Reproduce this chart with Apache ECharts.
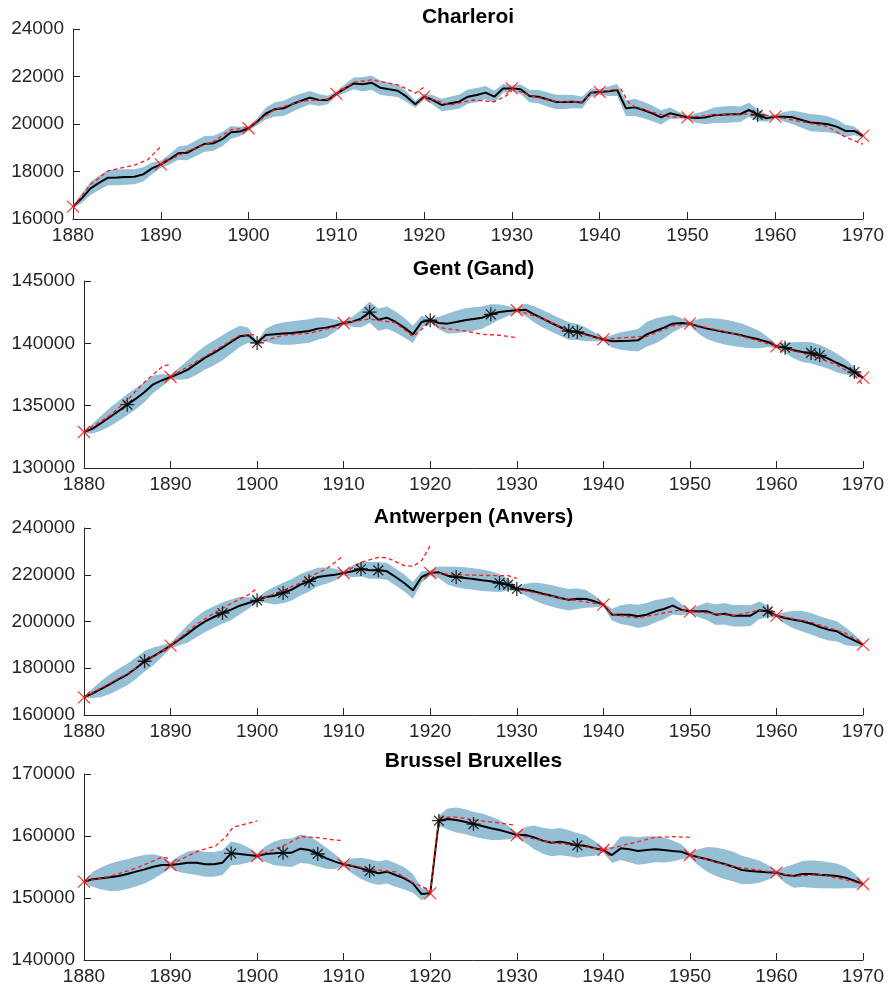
<!DOCTYPE html>
<html>
<head>
<meta charset="utf-8">
<script src="https://cdn.jsdelivr.net/npm/echarts@6/dist/echarts.min.js"></script>
<style>
html,body{margin:0;padding:0;background:#fff;}
#chart{width:890px;height:992px;}
</style>
</head>
<body>
<div id="chart"></div>
<script>
// ---------- DATA ----------
const firstYear = 1880, lastYear = 1970;
const xTicks = [1880,1890,1900,1910,1920,1930,1940,1950,1960,1970];
const titles = ["Charleroi", "Gent (Gand)", "Antwerpen (Anvers)", "Brussel Bruxelles"];

// yearly estimates 1880..1970
const charleroi = [
16520,16870,17290,17530,17740,17750,17770,17780,17880,18130,
18300,18510,18770,18790,18980,19160,19190,19360,19650,19680,
19820,20100,20450,20620,20660,20840,20980,21110,21010,21010,
21270,21500,21710,21670,21740,21530,21460,21400,21150,20830,
21150,21010,20800,20870,20940,21150,21220,21320,21150,21500,
21500,21460,21180,21150,21040,20930,20930,20940,20900,21320,
21350,21380,21430,20660,20700,20590,20450,20280,20450,20370,
20280,20250,20270,20370,20390,20410,20410,20590,20380,20240,
20310,20310,20280,20170,20060,20030,19990,19890,19710,19710,
19500];
const charleroiHalfBand = [
60,200,280,300,320,330,330,320,300,250,
150,220,280,320,330,330,320,300,270,200,
100,150,250,300,320,320,300,280,250,180,
100,180,250,300,300,300,280,260,220,150,
120,200,260,280,300,300,300,280,250,180,
120,200,260,280,300,300,300,280,250,180,
120,200,250,330,360,350,330,300,240,150,
80,200,280,330,350,350,330,300,240,150,
80,200,290,330,360,360,340,300,260,180,
80];
const charleroiProj = [
 [[1880,16520],[1882,17450],[1884,18030],[1887,18270],[1888.5,18490],[1890,19050]],
 [[1890,18300],[1893,18850],[1896,19260],[1898,19760],[1900,19850]],
 [[1900,19820],[1903,20620],[1906,20960],[1909,21050],[1910,21220]],
 [[1910,21270],[1912,21760],[1914,21860],[1916,21720],[1917,21650],[1919,21300],[1920,21550]],
 [[1920,21150],[1923,20800],[1925.5,21010],[1928,20940],[1929.5,21220],[1930,21400]],
 [[1930,21500],[1932,21200],[1935,20950],[1938,20920],[1939,21300],[1940,21350]],
 [[1940,21350],[1942.4,21480],[1943.3,20900],[1944,20730],[1946,20500],[1948,20300],[1950,20280]],
 [[1950,20280],[1953,20380],[1956,20420],[1958,20420],[1960,20310]],
 [[1960,20310],[1963,20100],[1966,19880],[1968,19450],[1970,19150]]
];
const charleroiCross = [1880,1890,1900,1910,1920,1930,1940,1950,1960,1970];
const charleroiStar = [1958];

const gent = [
132890,133160,133610,134090,134570,135080,135560,136100,136710,137030,
137300,137570,137890,138370,138850,139230,139650,140110,140560,140640,
140030,140670,140720,140780,140830,140910,140990,141180,141260,141420,
141630,141740,141980,142510,141900,142060,141710,141260,140720,141710,
141850,141630,141580,141710,141850,141950,142060,142330,142510,142590,
142650,142700,142330,141980,141630,141310,140990,140910,140720,140510,
140320,140160,140190,140210,140240,140720,140990,141260,141580,141630,
141580,141360,141180,141040,140910,140780,140640,140460,140300,140110,
139760,139650,139440,139310,139230,139040,138770,138420,138100,137700,
137250];
const gentHalfBand = [
100,400,600,750,800,850,850,800,700,500,
200,500,750,900,950,1000,1000,950,850,600,
150,500,800,900,950,950,950,900,800,500,
150,400,700,850,900,900,850,800,700,500,
150,500,800,900,950,950,900,800,600,400,
150,500,650,700,700,700,700,650,550,350,
150,500,700,800,900,1000,1000,900,700,400,
150,600,850,950,1000,1000,950,850,700,400,
150,400,650,800,850,850,800,750,600,400,
100];
const gentProj = [
 [[1880,132890],[1883,134200],[1885,135450],[1887,136900],[1889,138100],[1890,138350]],
 [[1890,137300],[1894,138950],[1898,140650],[1900,140700]],
 [[1900,140030],[1903,140650],[1906,140800],[1909,141300],[1910,141600]],
 [[1910,141630],[1913,141950],[1916,141650],[1918,140550],[1920,141700]],
 [[1920,141850],[1921,141260],[1924,141000],[1926,140720],[1928,140650],[1930,140460]],
 [[1930,142650],[1933,141980],[1936,141000],[1940,140320]],
 [[1940,140320],[1943,140480],[1945,140550],[1948,141400],[1950,141580]],
 [[1950,141580],[1955,140780],[1960,139760]],
 [[1960,139760],[1964,139050],[1967,138250],[1969,137430],[1970,136650]]
];
const gentCross = [1880,1890,1910,1930,1940,1950,1960,1970];
const gentStar = [1885,1900,1913,1920,1927,1936,1937,1961,1964,1965,1969];

const antwerpen = [
167560,169300,171200,173200,175300,177300,180000,183000,185100,187300,
189660,192230,194800,197650,200070,201920,203640,205060,206770,207910,
209050,210480,211050,212190,213620,215760,217180,219040,219610,220030,
220750,221460,222460,221890,221890,221460,219040,216470,213330,219040,
220750,221030,219610,219040,218610,218180,217610,217180,216470,215760,
213900,213620,212900,211900,211050,210050,209340,209770,209630,208630,
207200,202920,202920,202920,202210,202920,204350,205350,206770,205060,
204350,204350,204350,202920,203350,202500,202500,202500,204780,204350,
202500,201500,200780,200070,199070,197650,196510,195790,193650,191940,
190090];
const antwerpenHalfBand = [
300,2000,3500,4200,4500,4600,4600,4400,3800,2500,
1200,2500,3800,4400,4600,4600,4600,4400,3800,2500,
1000,2500,3800,4400,4600,4600,4400,4000,3500,2500,
1000,2500,3200,3600,3600,3600,3600,3600,3600,2500,
1200,2500,3800,4400,4600,4600,4600,4300,3800,2500,
1000,2500,3800,4400,4600,4600,4600,4400,3800,2500,
800,2500,4000,4600,5000,5000,4800,4400,3800,2500,
800,2500,3800,4400,4600,4600,4600,4400,3800,2500,
800,2500,3800,4400,4600,4600,4600,4300,3800,2500,
800];
const antwerpenProj = [
 [[1880,167560],[1885,177700],[1890,189660]],
 [[1890,189660],[1893,198800],[1895,203500],[1897,207700],[1899,211500],[1900,214200]],
 [[1900,209050],[1903,213300],[1905,216500],[1906,219040],[1908,222460],[1910,228160]],
 [[1910,220750],[1912,225310],[1914,227450],[1915,227300],[1917,223880],[1918,223600],[1919,226000],[1920,232400]],
 [[1920,220750],[1923,220030],[1926,219700],[1929,219610],[1930,218400]],
 [[1930,213900],[1935,210050],[1940,207200]],
 [[1940,207200],[1941,203000],[1944,201500],[1947,203640],[1949,205000],[1950,204350]],
 [[1950,204350],[1955,202500],[1958,204780],[1960,202500]],
 [[1960,202500],[1964,199700],[1968,195000],[1970,190500]]
];
const antwerpenCross = [1880,1890,1910,1920,1940,1950,1960,1970];
const antwerpenStar = [1887,1896,1900,1903,1906,1912,1914,1923,1928,1929,1930,1959];

const brussel = [
152630,153010,153170,153330,153550,153870,154250,154620,155050,155320,
155320,155480,155700,155700,155430,155430,155700,157200,157100,156930,
156770,157100,157200,157310,157310,157960,157740,157100,156400,155860,
155430,155160,154780,154350,153980,154250,153710,153170,152360,150640,
150750,162470,162740,162580,162310,161930,161610,161240,160970,160590,
160160,160160,159780,159250,158920,159090,158820,158490,158390,158010,
157740,156930,158010,157850,157580,157740,157850,157740,157580,157470,
156930,156560,156240,155860,155480,155050,154520,154350,154250,154140,
154090,153710,153550,153870,153870,153760,153660,153550,153280,152790,
152260];
const brusselHalfBand = [
200,1200,1800,2200,2400,2400,2400,2300,2000,1400,
500,1300,1800,2000,2000,2000,2000,1900,1700,1200,
400,1300,1900,2200,2300,2300,2200,2000,1700,1200,
400,1200,1700,1900,1900,1900,1900,1800,1500,1000,
400,800,1700,2000,2000,2000,2000,1900,1600,1100,
400,1300,1900,2100,2200,2200,2100,2000,1700,1200,
400,1300,1900,2100,2200,2200,2100,2000,1700,1200,
400,1300,2000,2300,2400,2400,2300,2100,1800,1200,
400,1300,1900,2100,2200,2200,2100,2000,1700,1200,
400];
const brusselProj = [
 [[1880,152630],[1883,153500],[1886,154800],[1889,156560],[1890,156400]],
 [[1890,155320],[1891,156130],[1893.3,157630],[1895.2,158390],[1896.4,159890],[1897.2,161400],[1900,162420]],
 [[1900,156770],[1903,158390],[1905,159890],[1907,159730],[1909,159350],[1910,159250]],
 [[1910,155430],[1914,154520],[1916,154200],[1918,152500],[1919.5,151560],[1920,151020]],
 [[1920,150750],[1921,163000],[1923,163050],[1925,162580],[1928,162100],[1929.6,161770]],
 [[1930,160160],[1934,158920],[1937,158490],[1940,157740]],
 [[1940,157740],[1942,158390],[1944,159090],[1946,159780],[1948,159900],[1950,159780]],
 [[1950,156930],[1955,155050],[1960,154090]],
 [[1960,154090],[1962,153500],[1965,153800],[1970,152300]]
];
const brusselCross = [1880,1890,1900,1910,1920,1930,1940,1950,1960,1970];
const brusselStar = [1897,1903,1907,1913,1921,1925,1937];

const yRanges = [[16000,24000,2000],[130000,145000,5000],[160000,240000,20000],[140000,170000,10000]];

// ---------- CHART ----------
const years = [];
for (let y = firstYear; y <= lastYear; y++) years.push(y);

const panels = [
  {vals: charleroi, hw: charleroiHalfBand, proj: charleroiProj, cross: charleroiCross, star: charleroiStar},
  {vals: gent, hw: gentHalfBand, proj: gentProj, cross: gentCross, star: gentStar},
  {vals: antwerpen, hw: antwerpenHalfBand, proj: antwerpenProj, cross: antwerpenCross, star: antwerpenStar},
  {vals: brussel, hw: brusselHalfBand, proj: brusselProj, cross: brusselCross, star: brusselStar}
];
const layout = [
  {left: 73, top: 29, height: 190, titleTop: 7},
  {left: 84, top: 281, height: 187, titleTop: 259},
  {left: 84, top: 528, height: 187, titleTop: 507},
  {left: 84, top: 774, height: 186, titleTop: 751}
];
const RIGHT = 27;
const FONT = "'Liberation Sans', Arial, Helvetica, sans-serif";
const AXIS_COLOR = '#262626';
const BAND_COLOR = '#94bfd4';
const CROSS = 'path://M0,0 L10,10 M0,10 L10,0';
const STAR = 'path://M5,0 L5,10 M0,5 L10,5 M1.5,1.5 L8.5,8.5 M1.5,8.5 L8.5,1.5';

function bandRenderer(p) {
  return function (params, api) {
    if (params.dataIndex !== 0) return null;
    const upper = years.map((y, k) => api.coord([y, p.vals[k] + p.hw[k]]));
    const lower = years.map((y, k) => api.coord([y, p.vals[k] - p.hw[k]])).reverse();
    return {
      type: 'polygon',
      shape: {points: upper.concat(lower)},
      style: {fill: BAND_COLOR, stroke: null}
    };
  };
}

const grids = [], xAxes = [], yAxes = [], series = [], titleOpts = [];
panels.forEach((p, i) => {
  const L = layout[i];
  grids.push({left: L.left, right: RIGHT, top: L.top, height: L.height, containLabel: false});
  titleOpts.push({
    text: titles[i], left: (L.left + (890 - RIGHT)) / 2, top: L.titleTop, textAlign: 'center', padding: 0,
    textStyle: {fontFamily: FONT, fontSize: 21, fontWeight: 'bold', color: '#000'}
  });
  xAxes.push({
    type: 'value', gridIndex: i, min: firstYear, max: lastYear, interval: 10,
    axisLine: {show: true, onZero: false, lineStyle: {color: AXIS_COLOR, width: 1}},
    axisTick: {show: true, inside: true, length: 7, lineStyle: {color: AXIS_COLOR}},
    splitLine: {show: false},
    axisLabel: {fontFamily: FONT, fontSize: 19, color: AXIS_COLOR, margin: 7, formatter: v => String(v)}
  });
  const yr = yRanges[i];
  yAxes.push({
    type: 'value', gridIndex: i, min: yr[0], max: yr[1], interval: yr[2],
    axisLine: {show: true, onZero: false, lineStyle: {color: AXIS_COLOR, width: 1}},
    axisTick: {show: true, inside: true, length: 7, lineStyle: {color: AXIS_COLOR}},
    splitLine: {show: false},
    axisLabel: {fontFamily: FONT, fontSize: 19, color: AXIS_COLOR, margin: 9, formatter: v => String(v)}
  });
  // uncertainty band (polygon through upper and lower edges)
  series.push({
    type: 'custom', xAxisIndex: i, yAxisIndex: i, silent: true, z: 1, clip: true,
    renderItem: bandRenderer(p),
    data: years.map((y, k) => [y, p.vals[k] + p.hw[k], p.vals[k] - p.hw[k]]),
    encode: {x: 0, y: [1, 2]}
  });
  // black estimate line
  series.push({
    type: 'line', xAxisIndex: i, yAxisIndex: i, symbol: 'none', silent: true, z: 3,
    lineStyle: {color: '#000', width: 2}, data: years.map((y, k) => [y, p.vals[k]])
  });
  // red dashed projections
  p.proj.forEach(seg => {
    series.push({
      type: 'line', xAxisIndex: i, yAxisIndex: i, symbol: 'none', silent: true, z: 4,
      lineStyle: {color: '#ff1a1a', width: 1.3, type: [4, 3]}, data: seg
    });
  });
  // red crosses at census years
  series.push({
    type: 'scatter', xAxisIndex: i, yAxisIndex: i, symbol: CROSS, symbolSize: 12, silent: true, z: 6,
    itemStyle: {color: 'rgba(0,0,0,0)', borderColor: '#ff0000', borderWidth: 1.2},
    data: p.cross.map(y => [y, p.vals[y - firstYear]])
  });
  // black asterisks
  series.push({
    type: 'scatter', xAxisIndex: i, yAxisIndex: i, symbol: STAR, symbolSize: 14, silent: true, z: 5,
    itemStyle: {color: 'rgba(0,0,0,0)', borderColor: '#000', borderWidth: 1.3},
    data: p.star.map(y => [y, p.vals[y - firstYear]])
  });
});

const chart = echarts.init(document.getElementById('chart'), null, {renderer: 'canvas'});
chart.setOption({
  animation: false,
  backgroundColor: '#fff',
  title: titleOpts,
  grid: grids,
  xAxis: xAxes,
  yAxis: yAxes,
  series: series
});
</script>
</body>
</html>
